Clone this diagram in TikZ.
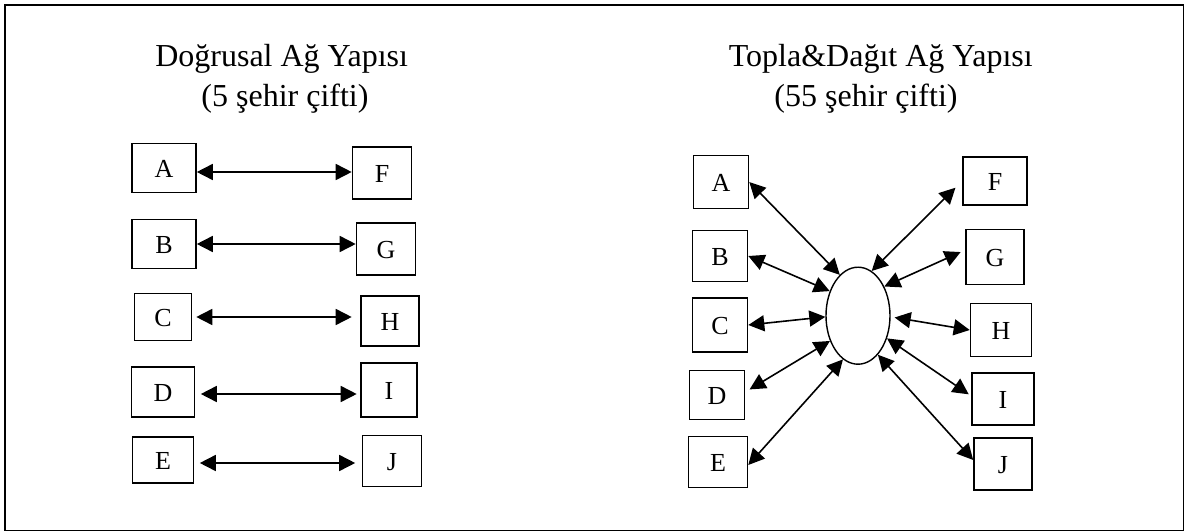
\documentclass[tikz,border=0pt]{standalone}
\usepackage{fontspec}
\setmainfont{Liberation Serif}
\usepackage{tikz}
\usetikzlibrary{shapes.geometric, arrows.meta, calc}

\tikzset{
    cell/.style 2 args={draw, line width=1.6pt, minimum width=#1, minimum height=#2,
        inner sep=0pt, text height=19pt, text depth=0pt, font=\fontsize{26}{26}\selectfont},
    hub/.style={draw, ellipse, line width=1.4pt, minimum width=64pt, minimum height=97pt, inner sep=0pt},
    link/.style={{Triangle[length=16pt,width=16pt]}-{Triangle[length=16pt,width=16pt]}, line width=1.6pt},
    heading/.style={anchor=base, inner sep=0pt, font=\fontsize{32}{35}\selectfont}
}

\begin{document}
\begin{tikzpicture}[x=1pt, y=-1pt]
\useasboundingbox (0,0) rectangle (1191,532);
\draw[line width=1.6pt] (5,5) rectangle (1183.5,530.5);

% left: direct links
\node[heading] (t1a) at (281.7,66.7) {Doğrusal Ağ Yapısı};
\node[heading] (t1b) at (285,107) {(5 şehir çifti)};

\node[cell={64pt}{49pt}] (A1) at (164,168) {A};
\node[cell={64pt}{49pt}] (B1) at (164,244) {B};
\node[cell={57pt}{47pt}] (C1) at (163,317) {C};
\node[cell={63pt}{50pt}] (D1) at (163,392) {D};
\node[cell={61pt}{46pt}] (E1) at (163,460) {E};
\node[cell={59pt}{52pt}] (F1) at (382,173) {F};
\node[cell={59pt}{52pt}] (G1) at (386,249) {G};
\node[cell={58pt}{50pt}] (H1) at (390,321) {H};
\node[cell={56pt}{54pt}] (I1) at (389,390) {I};
\node[cell={59pt}{51pt}] (J1) at (392,461) {J};

\draw[link] ($(A1.east)+(0,4)$) -- ($(A1.east -| F1.west)+(0,4)$);
\draw[link] (B1.east) -- (B1.east -| G1.west);
\draw[link, shorten <=4pt, shorten >=8.5pt] (C1.east) -- (C1.east -| H1.west);
\draw[link, shorten <=5.5pt, shorten >=3.5pt] ($(D1.east)+(0,2)$) -- ($(D1.east -| I1.west)+(0,2)$);
\draw[link, shorten <=5.5pt, shorten >=6.5pt] ($(E1.east)+(0,3)$) -- ($(E1.east -| J1.west)+(0,3)$);

% right: hub and spoke
\node[heading] (t2a) at (880.8,66.7) {Topla\&Dağıt Ağ Yapısı};
\node[heading] (t2b) at (866,107) {(55 şehir çifti)};

\node[hub] (hub) at (858,315.7) {};

\node[cell={55pt}{53pt}] (A2) at (721,182) {A};
\node[cell={55pt}{51pt}] (B2) at (720,256) {B};
\node[cell={55pt}{54pt}] (C2) at (720,325) {C};
\node[cell={55pt}{49pt}] (D2) at (717,395) {D};
\node[cell={59pt}{51pt}] (E2) at (718,462) {E};
\node[cell={64pt}{48pt}] (F2) at (995,181) {F};
\node[cell={58pt}{55pt}] (G2) at (995,257) {G};
\node[cell={61pt}{53pt}] (H2) at (1001,330) {H};
\node[cell={62pt}{52pt}] (I2) at (1003,399) {I};
\node[cell={58pt}{52pt}] (J2) at (1003,464) {J};

\draw[link] (A2.east) -- (hub.114);
\draw[link] (B2.east) -- (hub.139);
\draw[link] (C2.east) -- (hub.182);
\draw[link, shorten <=5pt] ($(D2.east)+(0,-3)$) -- (hub.222);
\draw[link] ($(E2.east)+(0,3)$) -- (hub.251);
\draw[link, shorten >=9.5pt] (hub.73) -- (F2.west);
\draw[link, shorten >=5pt] (hub.48) -- ($(G2.west)+(0,-7)$);
\draw[link, shorten <=4pt] (hub.358) -- (H2.west);
\draw[link, shorten >=3pt] (hub.322) -- ($(I2.west)+(0,-3)$);
\draw[link] (hub.297) -- ($(J2.west)+(0,-4)$);
\end{tikzpicture}
\end{document}
